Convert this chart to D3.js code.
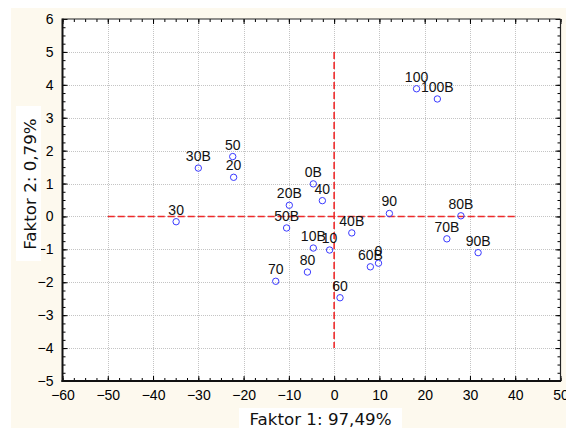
<!DOCTYPE html>
<html>
<head>
<meta charset="utf-8">
<script src="https://cdn.jsdelivr.net/npm/d3@7"></script>
<style>
  html, body { margin: 0; padding: 0; background: #ffffff; }
  svg { display: block; }
  .lib { font-family: "Liberation Sans", Arial, sans-serif; }
  .dv { font-family: "DejaVu Sans", Verdana, sans-serif; }
</style>
</head>
<body>
<svg id="chart" width="566" height="428"></svg>
<script>
// ---- data ----
const labels = ["30B","50","20","100","100B","0B","40","20B","50B","30","90","80B",
                "40B","70B","90B","10B","10","60B","0","80","70","60"];
const factor1 = [-30.0,-22.4,-22.2,18.2,22.8,-4.6,-2.6,-9.9,-10.5,-34.9,12.2,28.0,
                 3.9,24.9,31.8,-4.6,-1.0,8.0,9.8,-5.9,-12.9,1.3];
const factor2 = [1.47,1.82,1.19,3.88,3.57,0.99,0.48,0.34,-0.35,-0.16,0.09,0.02,
                 -0.50,-0.68,-1.10,-0.96,-1.02,-1.53,-1.42,-1.69,-1.97,-2.47];
const xTicks = [-60,-50,-40,-30,-20,-10,0,10,20,30,40,50];
const yTicks = [-5,-4,-3,-2,-1,0,1,2,3,4,5,6];
const xTitle = "Faktor 1: 97,49%";
const yTitle = "Faktor 2: 0,79%";
const hLine = {from: -50, to: 40, at: 0};
const vLine = {from: -4, to: 5, at: 0};

// ---- layout ----
const svg = d3.select("#chart");
const L = 62.5, R = 560.5, T = 19, B = 381;
const x = d3.scaleLinear().domain([-60, 50]).range([L, R]);
const y = d3.scaleLinear().domain([-5, 6]).range([B, T]);

// cream background
svg.append("rect").attr("x", 11).attr("y", 8).attr("width", 566 - 11).attr("height", 428 - 8)
  .attr("fill", "#fdf9ee");
// plot area
svg.append("rect").attr("x", L).attr("y", T).attr("width", R - L).attr("height", B - T)
  .attr("fill", "#ffffff");

// grid
const grid = svg.append("g").attr("stroke", "#c4c4c4").attr("stroke-width", 1)
  .attr("stroke-dasharray", "1,1").attr("shape-rendering", "crispEdges");
xTicks.slice(1, -1).forEach(v => grid.append("line")
  .attr("x1", Math.round(x(v)) + 0.5).attr("x2", Math.round(x(v)) + 0.5).attr("y1", T).attr("y2", B));
yTicks.slice(1, -1).forEach(v => grid.append("line")
  .attr("y1", Math.round(y(v)) + 0.5).attr("y2", Math.round(y(v)) + 0.5).attr("x1", L).attr("x2", R));

// minor tick values
const xMinor = d3.range(-60, 50.001, 2.5);
const yMinor = d3.range(-5, 6.001, 0.25);

function styleAxis(g) { g.select(".domain").remove(); g.selectAll("line").attr("stroke", "#000"); }
function styleText(g) {
  g.attr("font-family", null).attr("font-size", null);
  g.selectAll("text").attr("class", "lib").style("font-size", "14px").attr("fill", "#000");
}

// bottom
svg.append("g").attr("transform", `translate(0,${B})`)
  .call(d3.axisBottom(x).tickValues(xTicks).tickSize(-5).tickPadding(9).tickFormat(d3.format("d")))
  .call(styleAxis).call(styleText);
svg.append("g").attr("transform", `translate(0,${B})`)
  .call(d3.axisBottom(x).tickValues(xMinor).tickSize(-3).tickFormat(""))
  .call(styleAxis);
// top
svg.append("g").attr("transform", `translate(0,${T})`)
  .call(d3.axisTop(x).tickValues(xTicks).tickSize(-5).tickFormat("")).call(styleAxis);
svg.append("g").attr("transform", `translate(0,${T})`)
  .call(d3.axisTop(x).tickValues(xMinor).tickSize(-3).tickFormat("")).call(styleAxis);
// left
svg.append("g").attr("transform", `translate(${L},0)`)
  .call(d3.axisLeft(y).tickValues(yTicks).tickSize(-5).tickPadding(9).tickFormat(d3.format("d")))
  .call(styleAxis).call(styleText);
svg.append("g").attr("transform", `translate(${L},0)`)
  .call(d3.axisLeft(y).tickValues(yMinor).tickSize(-3).tickFormat("")).call(styleAxis);
// right
svg.append("g").attr("transform", `translate(${R},0)`)
  .call(d3.axisRight(y).tickValues(yTicks).tickSize(-5).tickFormat("")).call(styleAxis);
svg.append("g").attr("transform", `translate(${R},0)`)
  .call(d3.axisRight(y).tickValues(yMinor).tickSize(-3).tickFormat("")).call(styleAxis);

// frame
svg.append("line").attr("x1", L).attr("x2", R).attr("y1", T).attr("y2", T).attr("stroke", "#222").attr("stroke-width", 1.2);
svg.append("line").attr("x1", R).attr("x2", R).attr("y1", T).attr("y2", B).attr("stroke", "#222").attr("stroke-width", 1.2);
svg.append("line").attr("x1", L).attr("x2", L).attr("y1", T - 0.6).attr("y2", B + 1).attr("stroke", "#111").attr("stroke-width", 2);
svg.append("line").attr("x1", L - 1).attr("x2", R + 0.6).attr("y1", B).attr("y2", B).attr("stroke", "#111").attr("stroke-width", 2);

// red dashed reference lines
svg.append("line").attr("x1", x(hLine.from)).attr("x2", x(hLine.to)).attr("y1", y(hLine.at)).attr("y2", y(hLine.at))
  .attr("stroke", "#ee2b2b").attr("stroke-width", 1.6).attr("stroke-dasharray", "7,3");
svg.append("line").attr("x1", x(vLine.at)).attr("x2", x(vLine.at)).attr("y1", y(vLine.to)).attr("y2", y(vLine.from))
  .attr("stroke", "#ee2b2b").attr("stroke-width", 1.6).attr("stroke-dasharray", "7,3");

// points
const pts = labels.map((l, i) => ({label: l, fx: factor1[i], fy: factor2[i]}));
svg.append("g").selectAll("circle").data(pts).join("circle")
  .attr("cx", d => x(d.fx)).attr("cy", d => y(d.fy)).attr("r", 3.2)
  .attr("fill", "none").attr("stroke", "#3a3aff").attr("stroke-width", 1);
svg.append("g").selectAll("text").data(pts).join("text")
  .attr("class", "lib").style("font-size", "14px")
  .attr("x", d => x(d.fx)).attr("y", d => y(d.fy) - 7)
  .attr("text-anchor", "middle").attr("fill", "#111").text(d => d.label);

// axis titles with white boxes
svg.append("rect").attr("x", 239).attr("y", 408).attr("width", 163).attr("height", 20).attr("fill", "#fff");
svg.append("text").attr("class", "dv").style("font-size", "16.7px")
  .attr("x", 320.5).attr("y", 424.5).attr("text-anchor", "middle").attr("fill", "#111").text(xTitle);
svg.append("rect").attr("x", 16).attr("y", 106).attr("width", 25).attr("height", 155).attr("fill", "#fff");
svg.append("text").attr("class", "dv").style("font-size", "16.7px")
  .attr("transform", "translate(35.5,184) rotate(-90)").attr("text-anchor", "middle")
  .attr("fill", "#111").text(yTitle);
</script>
</body>
</html>
